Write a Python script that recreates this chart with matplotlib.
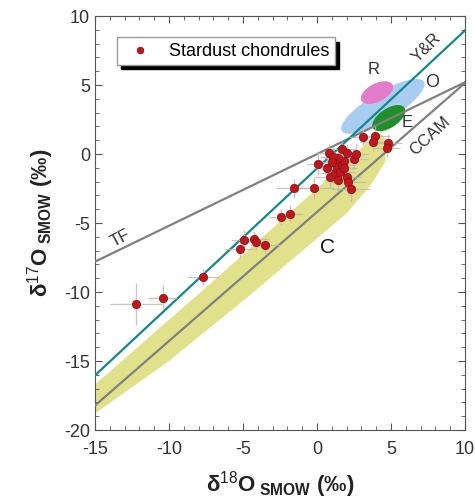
import numpy as np
import matplotlib
matplotlib.use('Agg')
import matplotlib.pyplot as plt
from matplotlib.patches import Ellipse

plt.rcParams['font.family'] = ['Liberation Sans', 'DejaVu Sans']
plt.rcParams['mathtext.fontset'] = 'custom'
plt.rcParams['mathtext.rm'] = 'Liberation Sans'
plt.rcParams['mathtext.it'] = 'Liberation Sans:italic'
plt.rcParams['mathtext.bf'] = 'Liberation Sans:bold'
plt.rcParams['axes.unicode_minus'] = False

# Stardust chondrule oxygen isotopes
d18O = [-12.25, -10.43, -7.7, -5.2, -4.93, -4.26, -4.12, -3.5, -2.45, -1.82,
        -1.55, -0.17, 0.09, 0.83, 0.65, 0.88, 1.2, 1.33, 1.44, 1.55,
        1.66, 1.7, 1.85, 2.0, 2.0, 2.12, 2.3, 2.5, 2.62, 3.13,
        3.92, 3.8, 4.82, 4.7, 1.4, 1.8, 1.1, 1.0]
d17O = [-10.87, -10.4, -8.9, -6.9, -6.2, -6.16, -6.38, -6.6, -4.56, -4.32,
        -2.49, -2.47, -0.7, 0.05, -1.04, -1.64, -1.4, -0.92, -1.9, -1.28,
        -0.8, 0.35, -0.5, 0.05, -1.64, -2.0, -2.5, -0.35, 0.0, 1.25,
        1.3, 0.9, 0.78, 0.41, -0.3, -1.0, -0.2, -0.6]
err18 = [1.75, 1.0, 1.1, 1.0, 0.9, 1.0, 0.9, 1.0, 0.8, 0.9,
         1.2, 1.3, 0.8, 0.9, 0.9, 1.0, 1.0, 0.9, 1.0, 1.0,
         0.9, 0.9, 1.0, 0.9, 1.0, 1.2, 1.3, 0.9, 0.9, 1.0,
         1.0, 0.9, 0.9, 0.9, 0.9, 0.9, 0.9, 0.9]
err17 = [1.5, 0.9, 0.6, 0.6, 0.7, 0.6, 0.6, 0.6, 0.6, 0.6,
         0.7, 0.8, 0.8, 0.7, 0.8, 0.8, 0.7, 0.7, 0.8, 0.7,
         0.7, 0.7, 0.7, 0.7, 0.8, 0.9, 1.0, 0.7, 0.7, 0.6,
         0.7, 0.7, 0.7, 0.6, 0.7, 0.7, 0.7, 0.7]

# reference lines: slope, intercept
tf_line = (0.52, 0.0)
ccam_line = (0.935, -4.2)
yr_line = (1.0, -1.04)
x_range = [-15, 10]

# carbonaceous chondrite field "C"
band_x = [-15, -7, 0, 2, 3.5, 4.3, 4.7, 4.6, 3.6, 2.0, -4.5, -10, -15]
band_y = [-16.7, -9.2, -2.5, -0.6, 0.95, 1.5, 1.0, -0.6, -2.3, -4.3, -10.2, -15.0, -18.8]

# ordinary / enstatite / R chondrite fields: center, width, height, angle
fields = {
    'O': ((4.45, 3.45), 6.6, 2.0, 33, '#a9cdf0'),
    'R': ((4.05, 4.45), 2.4, 1.3, 30, '#e37cc8'),
    'E': ((4.85, 2.6), 2.6, 1.35, 37, '#1f8f2a'),
}

fig = plt.figure(figsize=(4.75, 5.01), dpi=100)
ax = fig.add_axes([0.2, 0.1417, 0.779, 0.8263])

ax.fill(band_x, band_y, color='#dcdc78', alpha=0.85, lw=0, zorder=1)

for name, (c, w, h, a, col) in fields.items():
    ax.add_patch(Ellipse(c, w, h, angle=a, color=col, lw=0, zorder=2))

xx = np.array(x_range)
for (m, b), col in [(tf_line, '#808080'), (ccam_line, '#808080'), (yr_line, '#13878a')]:
    ax.plot(xx, m * xx + b, color=col, lw=1.6, zorder=3)

ax.errorbar(d18O, d17O, xerr=err18, yerr=err17, fmt='none',
            ecolor='#b9b9b0', elinewidth=0.9, alpha=0.8, zorder=4)
ax.plot(d18O, d17O, 'o', color='#c0161e', mec='#8a0c10', mew=0.5, ms=6,
        zorder=5, label='Stardust chondrules')

# labels on the plot
ax.text(-13.3, -6.1, 'TF', rotation=28, fontsize=12, color='#333333',
        ha='center', va='center')
ax.text(7.6, 1.3, 'CCAM', rotation=43, fontsize=12, color='#333333',
        ha='center', va='center')
ax.text(7.4, 7.7, 'Y&R', rotation=45, fontsize=12, color='#333333',
        ha='center', va='center')
ax.text(3.8, 6.1, 'R', fontsize=12, color='#333333', ha='center', va='center')
ax.text(7.8, 5.2, 'O', fontsize=13, color='#333333', ha='center', va='center')
ax.text(6.1, 2.3, 'E', fontsize=12, color='#333333', ha='center', va='center')
ax.text(0.7, -6.8, 'C', fontsize=15, color='#111111', ha='center', va='center')

ax.set_xlim(-15, 10)
ax.set_ylim(-20, 10)
ax.set_xticks(np.arange(-15, 11, 5))
ax.set_yticks(np.arange(-20, 11, 5))
ax.set_xticks(np.arange(-15, 11, 1), minor=True)
ax.set_yticks(np.arange(-20, 11, 1), minor=True)
ax.tick_params(which='both', direction='in', top=True, right=True,
               colors='#555555', labelcolor='#333333', labelsize=13)
ax.tick_params(which='major', length=5)
ax.tick_params(which='minor', length=3)
ax.tick_params(axis='x', pad=8)
for s in ax.spines.values():
    s.set_color('#555555')

ax.set_xlabel('δ$^{18}$O$_{\\ \\mathregular{SMOW}}$ (‰)', fontsize=16,
              fontweight='bold', color='#222222', labelpad=8)
ax.set_ylabel('δ$^{17}$O$_{\\ \\mathregular{SMOW}}$ (‰)', fontsize=16,
              fontweight='bold', color='#222222', labelpad=6)

leg = ax.legend(loc='upper left', bbox_to_anchor=(0.035, 0.97), fontsize=13,
                fancybox=False, edgecolor='#999999', framealpha=1,
                shadow={'color': 'black', 'alpha': 1, 'ox': 3, 'oy': -3},
                handletextpad=0.6, markerscale=0.8, borderpad=0.3)

plt.savefig('out.png', dpi=100)
